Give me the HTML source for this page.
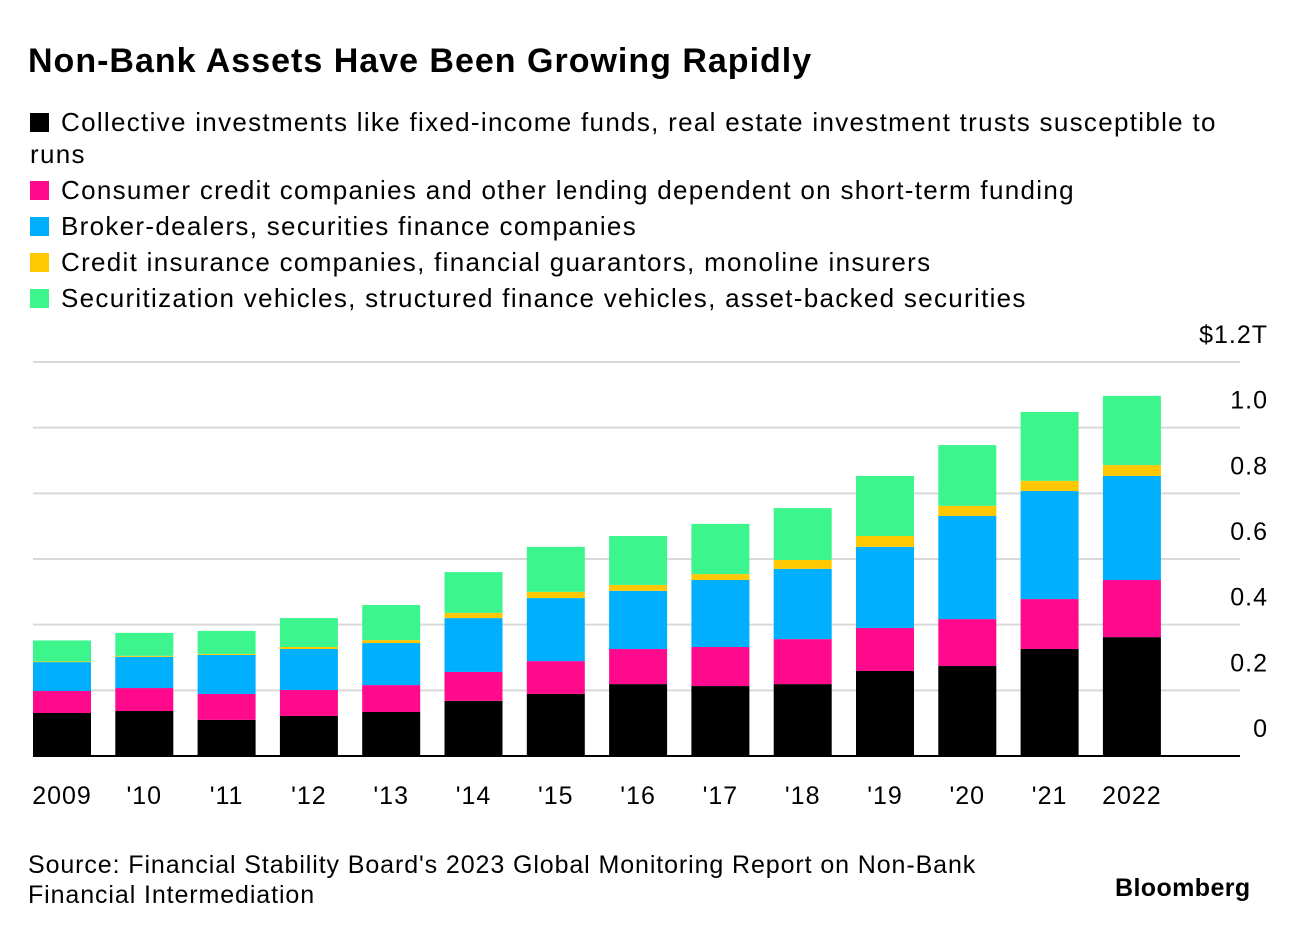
<!DOCTYPE html>
<html><head><meta charset="utf-8"><style>
body{margin:0;background:#fff;font-family:"Liberation Sans",sans-serif;color:#000}
#wrap{position:relative;width:1296px;height:934px;overflow:hidden}
.t{position:absolute;white-space:nowrap}
.lg{position:absolute;left:30px;font-size:26px;line-height:32px;letter-spacing:1.3px}
.sw{display:inline-block;width:19px;height:19px;margin-right:12px;vertical-align:-1px}
</style></head><body><div id="wrap">
<div class="t" style="left:28px;top:42px;font-size:34px;font-weight:bold;letter-spacing:1px">Non-Bank Assets Have Been Growing Rapidly</div>
<div class="lg" style="top:106px;width:1215px;white-space:normal"><span class="sw" style="background:#000"></span>Collective investments like fixed-income funds, real estate investment trusts susceptible to runs</div>
<div class="lg" style="top:174px"><span class="sw" style="background:#ff0a8c"></span>Consumer credit companies and other lending dependent on short-term funding</div>
<div class="lg" style="top:210px"><span class="sw" style="background:#00b0ff"></span>Broker-dealers, securities finance companies</div>
<div class="lg" style="top:246px"><span class="sw" style="background:#ffc800"></span>Credit insurance companies, financial guarantors, monoline insurers</div>
<div class="lg" style="top:282px"><span class="sw" style="background:#3cf58c"></span>Securitization vehicles, structured finance vehicles, asset-backed securities</div>
<svg id="svg" width="1296" height="934" style="position:absolute;left:0;top:0"></svg>
<div class="t" style="left:28px;top:850px;font-size:25px;line-height:30px;letter-spacing:0.9px">Source: Financial Stability Board's 2023 Global Monitoring Report on Non-Bank<br>Financial Intermediation</div>
<div class="t" style="left:1115px;top:874px;font-size:25px;font-weight:bold;letter-spacing:0.4px">Bloomberg</div>
</div>
<script>
const categories=["2009","'10","'11","'12","'13","'14","'15","'16","'17","'18","'19","'20","'21","2022"];
const collective=[.131,.137,.110,.122,.134,.168,.189,.219,.213,.219,.259,.274,.326,.362];
const consumer=[.067,.070,.079,.079,.082,.088,.100,.107,.119,.137,.131,.143,.152,.174];
const broker=[.088,.095,.119,.125,.128,.164,.192,.177,.204,.214,.247,.314,.329,.317];
const insurance=[.002,.003,.003,.006,.009,.016,.019,.018,.018,.027,.033,.031,.031,.033];
const securitization=[.064,.070,.070,.088,.107,.124,.137,.149,.153,.158,.183,.185,.210,.211];
const ticks=[0,0.2,0.4,0.6,0.8,1.0,1.2];
const tickLabels=["0","0.2","0.4","0.6","0.8","1.0","$1.2T"];
const series=[collective,consumer,broker,insurance,securitization];
const colors=["#000","#ff0a8c","#00b0ff","#ffc800","#3cf58c"];
const names=["collective","consumer","broker","insurance","securitization"];
const svg=document.getElementById('svg');const NS="http://www.w3.org/2000/svg";
const y0=756,y1=362,vmax=1.2;const yS=v=>y0-(v/vmax)*(y0-y1);
const xL=33,step=82.3,bw=58;const xS=i=>xL+i*step;
function mk(t,a){const e=document.createElementNS(NS,t);for(const k in a)e.setAttribute(k,a[k]);svg.appendChild(e);return e;}
ticks.forEach((v,i)=>{if(v>0){const l=mk('line',{x1:33,x2:1240,y1:yS(v),y2:yS(v),stroke:'#d9d9d9','stroke-width':2});

}
const t=mk('text',{x:1268,y:yS(v)-19,'text-anchor':'end','font-size':25,'letter-spacing':1,'font-family':'Liberation Sans'});t.textContent=tickLabels[i];

});
categories.forEach((c,i)=>{let acc=0;series.forEach((s,k)=>{const v=s[i];const r=mk('rect',{x:xS(i),y:yS(acc+v),width:bw,height:yS(acc)-yS(acc+v),fill:colors[k]});

acc+=v;});
const t=mk('text',{x:xS(i)+bw/2,y:804,'text-anchor':'middle','font-size':25,'letter-spacing':1,'font-family':'Liberation Sans'});t.textContent=c;

});
const b=mk('line',{x1:33,x2:1240,y1:y0,y2:y0,stroke:'#000','stroke-width':2});


</script></body></html>
